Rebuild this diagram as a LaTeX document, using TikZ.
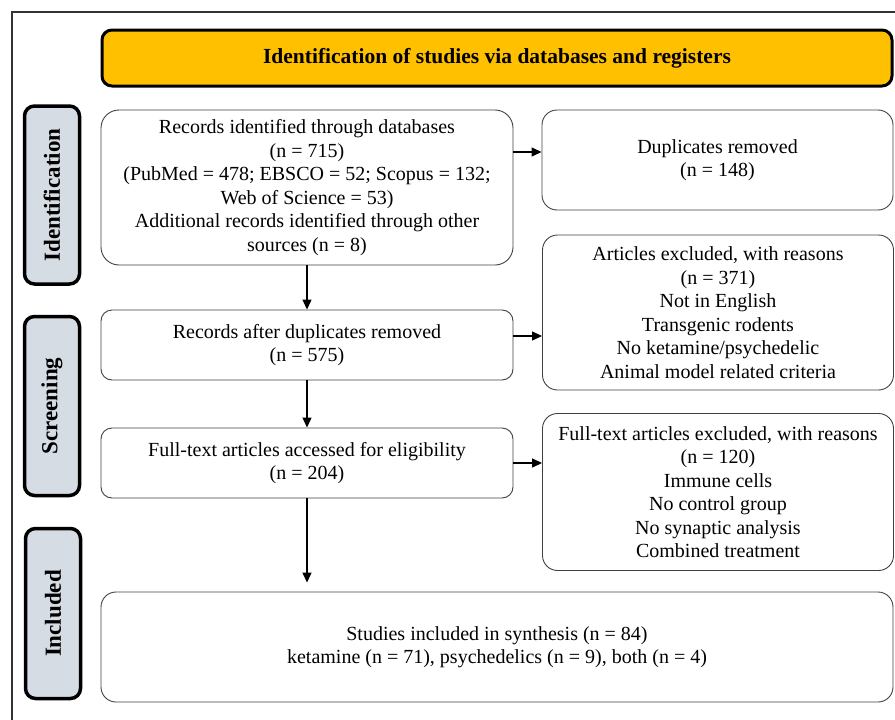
\documentclass[tikz,border=0pt]{standalone}
\usepackage{fontspec}
\setmainfont{Liberation Serif}
\tikzset{
every picture/.style={
line width=1pt
}}
\usetikzlibrary{arrows.meta,calc}
\definecolor{headgold}{HTML}{FFC000}
\definecolor{phasegray}{HTML}{D6DCE4}

\begin{document}
\begin{tikzpicture}[x=1pt,y=-1pt,
box/.style = {rectangle, rounded corners=15pt, draw=black!75, line width=0.9pt, align=center, inner sep=0pt, font=\fontsize{20}{23.5}\selectfont},
leftcol/.style = {minimum width=412pt},
rightcol/.style = {minimum width=351pt},
header/.style = {rectangle, rounded corners=10pt, draw=black, line width=3pt, fill=headgold, minimum width=790pt, minimum height=56pt, font=\fontsize{21.5}{24}\selectfont\bfseries},
phase/.style = {rectangle, rounded corners=10pt, draw=black, line width=3.5pt, fill=phasegray, rotate=90, minimum height=55pt, font=\fontsize{23}{26}\selectfont\bfseries},
arr/.style = {-{Triangle[length=10pt,width=9pt]}, line width=1.2pt}]

\useasboundingbox (0,0) rectangle (895,720);
\draw[line width=1.6pt, black!80] (895,12) -- (12,12) -- (12,720);

\node[header] (head) at (497,58) {Identification of studies via databases and registers};

\node[phase, minimum width=178pt] (ident) at (52,195) {Identification};
\node[phase, minimum width=179pt] (screen) at (52,406) {Screening};
\node[phase, minimum width=170pt] (incl) at (53,613.5) {Included};

\node[box, leftcol, minimum height=155pt, rounded corners=18pt] (recs) at (307,187.5) {Records identified through databases\\(n = 715)\\(PubMed = 478; EBSCO = 52; Scopus = 132;\\Web of Science = 53)\\Additional records identified through other\\sources (n = 8)};
\node[box, rightcol, minimum height=100pt] (dups) at (717.5,160) {Duplicates removed\\(n = 148)};
\node[box, rightcol, minimum height=155pt] (excl) at (718,312.5) {Articles excluded, with reasons\\(n = 371)\\Not in English\\Transgenic rodents\\No ketamine/psychedelic\\Animal model related criteria};
\node[box, leftcol, minimum height=70pt, rounded corners=11pt] (after) at (307,345) {Records after duplicates removed\\(n = 575)};
\node[box, leftcol, minimum height=70pt, rounded corners=11pt] (full) at (307,463) {Full-text articles accessed for eligibility\\(n = 204)};
\node[box, rightcol, minimum height=157pt] (ftexcl) at (718,492) {Full-text articles excluded, with reasons\\(n = 120)\\Immune cells\\No control group\\No synaptic analysis\\Combined treatment};
\node[box, minimum width=792pt, minimum height=110pt] (synth) at (497,647) {Studies included in synthesis (n = 84)\\ketamine (n = 71), psychedelics (n = 9), both (n = 4)};

\draw[arr] ($(recs.east |- dups.west)+(0,-8)$) -- ($(dups.west)+(0,-8)$);
\draw[arr] (recs) -- (after);
\draw[arr] ($(after.east)+(0,-9)$) -- ($(after.east -| excl.west)+(0,-9)$);
\draw[arr] (after) -- (full);
\draw[arr] (full.east) -- (full.east -| ftexcl.west);
\draw[arr, shorten >=9pt] (full.south) -- (full.south |- synth.north);
\end{tikzpicture}
\end{document}
